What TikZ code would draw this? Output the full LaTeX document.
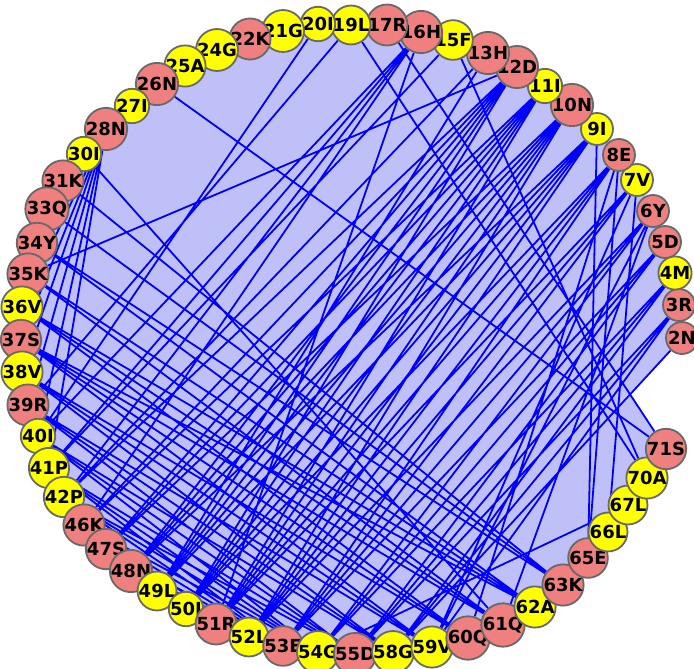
\documentclass[tikz,border=0pt]{standalone}
\usepackage{fontspec}
\setmainfont{DejaVu Sans}
\usetikzlibrary{backgrounds}
\definecolor{rimgray}{RGB}{105,105,105}
\definecolor{polar}{RGB}{240,128,128}
\definecolor{apolar}{RGB}{255,255,0}
\definecolor{sheet}{RGB}{192,192,248}
\definecolor{contact}{RGB}{0,0,255}

\begin{document}
\begin{tikzpicture}[x=1pt, y=-1pt,
    res/.style={circle, draw=rimgray, line width=1.8pt, minimum size=32pt, inner sep=0pt,
                font=\fontsize{18}{18}\selectfont\bfseries, text=black},
    pol/.style={res, fill=polar},
    apo/.style={res, fill=apolar},
    lnk/.style={draw=contact, line width=1.8pt}
  ]
    \useasboundingbox (0,0) rectangle (694,669);
    \node[pol] (r2)  at (682,338) {2N};
    \node[pol] (r3)  at (679,305) {3R};
    \node[apo] (r4)  at (675,273) {4M};
    \node[pol] (r5)  at (665,242) {5D};
    \node[pol] (r6)  at (653,211) {6Y};
    \node[apo] (r7)  at (637,180) {7V};
    \node[pol] (r8)  at (619,155) {8E};
    \node[apo] (r9)  at (597,129) {9I};
    \node[pol] (r10) at (572,105) {10N};
    \node[apo] (r11) at (545,86)  {11I};
    \node[pol] (r12) at (517,67)  {12D};
    \node[pol] (r13) at (488,53)  {13H};
    \node[apo] (r15) at (453,40)  {15F};
    \node[pol] (r16) at (421,32)  {16H};
    \node[pol] (r17) at (387,25)  {17R};
    \node[apo] (r19) at (351,25)  {19L};
    \node[apo] (r20) at (318,24)  {20I};
    \node[apo] (r21) at (283,31)  {21G};
    \node[pol] (r22) at (250,39)  {22K};
    \node[apo] (r24) at (217,50)  {24G};
    \node[apo] (r25) at (185,66)  {25A};
    \node[pol] (r26) at (157,84)  {26N};
    \node[apo] (r27) at (132,106) {27I};
    \node[pol] (r28) at (106,129) {28N};
    \node[apo] (r30) at (84,154)  {30I};
    \node[pol] (r31) at (63,181)  {31K};
    \node[pol] (r33) at (47,209)  {33Q};
    \node[pol] (r34) at (37,243)  {34Y};
    \node[pol] (r35) at (28,274)  {35K};
    \node[apo] (r36) at (22,307)  {36V};
    \node[pol] (r37) at (21,340)  {37S};
    \node[apo] (r38) at (22,372)  {38V};
    \node[pol] (r39) at (28,405)  {39R};
    \node[apo] (r40) at (38,436)  {40I};
    \node[apo] (r41) at (49,468)  {41P};
    \node[apo] (r42) at (64,497)  {42P};
    \node[pol] (r46) at (84,525)  {46K};
    \node[pol] (r47) at (106,549) {47S};
    \node[pol] (r48) at (131,571) {48N};
    \node[apo] (r49) at (157,591) {49L};
    \node[apo] (r50) at (186,609) {50I};
    \node[pol] (r51) at (216,624) {51R};
    \node[apo] (r52) at (249,637) {52L};
    \node[pol] (r53) at (283,646) {53E};
    \node[apo] (r54) at (318,652) {54G};
    \node[pol] (r55) at (355,654) {55D};
    \node[apo] (r58) at (393,652) {58G};
    \node[apo] (r59) at (432,647) {59V};
    \node[pol] (r60) at (468,638) {60Q};
    \node[pol] (r61) at (503,625) {61Q};
    \node[apo] (r62) at (535,607) {62A};
    \node[pol] (r63) at (563,585) {63K};
    \node[pol] (r65) at (588,558) {65E};
    \node[apo] (r66) at (608,532) {66L};
    \node[apo] (r67) at (628,505) {67L};
    \node[apo] (r70) at (647,478) {70A};
    \node[pol] (r71) at (666,449) {71S};
    \coordinate (notch) at (intersection of r2--r58 and r17--r71);
    \begin{pgfonlayer}{background}
      \fill[sheet] (r2.center) -- (r3.center) -- (r4.center) -- (r5.center) -- (r6.center)
        -- (r7.center) -- (r8.center) -- (r9.center) -- (r10.center) -- (r11.center)
        -- (r12.center) -- (r13.center) -- (r15.center) -- (r16.center) -- (r17.center)
        -- (r19.center) -- (r20.center) -- (r21.center) -- (r22.center) -- (r24.center)
        -- (r25.center) -- (r26.center) -- (r27.center) -- (r28.center) -- (r30.center)
        -- (r31.center) -- (r33.center) -- (r34.center) -- (r35.center) -- (r36.center)
        -- (r37.center) -- (r38.center) -- (r39.center) -- (r40.center) -- (r41.center)
        -- (r42.center) -- (r46.center) -- (r47.center) -- (r48.center) -- (r49.center)
        -- (r50.center) -- (r51.center) -- (r52.center) -- (r53.center) -- (r54.center)
        -- (r55.center) -- (r58.center) -- (r59.center) -- (r60.center) -- (r61.center)
        -- (r62.center) -- (r63.center) -- (r65.center) -- (r66.center) -- (r67.center)
        -- (r70.center) -- (r71.center) -- (notch) -- cycle;
      \draw[lnk] (r2) -- (r58) (r3) -- (r55) (r3) -- (r58) (r3) -- (r59)
        (r4) -- (r54) (r4) -- (r55) (r4) -- (r58)
        (r5) -- (r53) (r5) -- (r54) (r5) -- (r55)
        (r6) -- (r52) (r6) -- (r53) (r6) -- (r54) (r6) -- (r59) (r6) -- (r61)
        (r7) -- (r51) (r7) -- (r52) (r7) -- (r53) (r7) -- (r59) (r7) -- (r66)
        (r8) -- (r50) (r8) -- (r51) (r8) -- (r52) (r8) -- (r53) (r8) -- (r60) (r8) -- (r65)
        (r9) -- (r48) (r9) -- (r49) (r9) -- (r50) (r9) -- (r51) (r9) -- (r52) (r9) -- (r65)
        (r10) -- (r47) (r10) -- (r48) (r10) -- (r49) (r10) -- (r50) (r10) -- (r51) (r10) -- (r52)
        (r11) -- (r46) (r11) -- (r47) (r11) -- (r48) (r11) -- (r49) (r11) -- (r50) (r11) -- (r51)
        (r12) -- (r42) (r12) -- (r46) (r12) -- (r47) (r12) -- (r48) (r12) -- (r49) (r12) -- (r50) (r12) -- (r35)
        (r13) -- (r49) (r13) -- (r42) (r15) -- (r70) (r15) -- (r41)
        (r16) -- (r40) (r16) -- (r41) (r16) -- (r42) (r16) -- (r46) (r16) -- (r51)
        (r17) -- (r71) (r19) -- (r70) (r19) -- (r39) (r20) -- (r40)
        (r26) -- (r20) (r26) -- (r21) (r25) -- (r21) (r26) -- (r71)
        (r28) -- (r36) (r28) -- (r37) (r28) -- (r38) (r28) -- (r39) (r28) -- (r40) (r28) -- (r41)
        (r30) -- (r61) (r31) -- (r63) (r33) -- (r63)
        (r34) -- (r62) (r34) -- (r63) (r35) -- (r61) (r35) -- (r62)
        (r36) -- (r60) (r36) -- (r61) (r36) -- (r62)
        (r37) -- (r59) (r37) -- (r60) (r37) -- (r61) (r37) -- (r62)
        (r38) -- (r58) (r38) -- (r59) (r38) -- (r60)
        (r39) -- (r55) (r39) -- (r58) (r39) -- (r59)
        (r40) -- (r54) (r40) -- (r55) (r40) -- (r58)
        (r41) -- (r53) (r41) -- (r54) (r41) -- (r55)
        (r42) -- (r53) (r42) -- (r54) (r42) -- (r55)
        (r46) -- (r52) (r46) -- (r53) (r46) -- (r54) (r47) -- (r52) (r47) -- (r53)
        (r54) -- (r67);
    \end{pgfonlayer}
  \end{tikzpicture}
\end{document}
